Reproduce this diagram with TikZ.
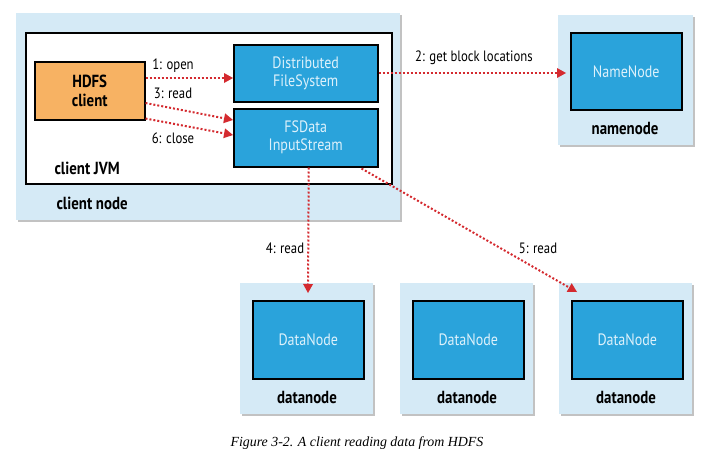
\documentclass[tikz,border=0pt]{standalone}
\usepackage{fontspec}
\setmainfont{PT Sans}[FakeStretch=0.85]
\newfontfamily\captionfont{Liberation Serif}
\usetikzlibrary{shadows,arrows.meta,calc}
\definecolor{hostblue}{HTML}{D5EAF6}
\definecolor{procblue}{HTML}{2AA3DB}
\definecolor{clientorange}{HTML}{F7B263}
\definecolor{callred}{HTML}{D42A2F}
\definecolor{proctext}{HTML}{DDF1FB}
\begin{document}
\begin{tikzpicture}[x=1pt,y=-1pt,
  host/.style={fill=hostblue,anchor=north west,inner sep=0pt,minimum width=#1,
    drop shadow={shadow xshift=2pt,shadow yshift=-2pt,fill=black!40,opacity=.6}},
  host/.default=133pt,
  proc/.style={draw=black,line width=1.5pt,fill=procblue,text=proctext,anchor=north west,
    align=center,font=\fontsize{16.5}{18}\selectfont,inner sep=0pt},
  hostname/.style={font=\bfseries\fontsize{17.5}{18}\selectfont},
  call/.style={callred,line width=2pt,dotted,-{Triangle[length=9pt,width=10pt,line width=0pt]}},
  calllabel/.style={font=\fontsize{15}{16}\selectfont}]
\useasboundingbox (0,0) rectangle (714,455);
\node[host=384pt,minimum height=207pt] (clientnode) at (16,13) {};
\node[draw=black,line width=2pt,fill=white,anchor=north west,minimum width=366pt,minimum height=151pt] (jvm) at (25,32) {};
\node[draw=black,line width=1.5pt,fill=clientorange,anchor=north west,minimum width=110pt,minimum height=58pt,
  align=center,font=\bfseries\fontsize{17.5}{19}\selectfont] (client) at (34,61) {HDFS\\client};
\node[proc,minimum width=144pt,minimum height=57pt] (dfs) at (233,44) {Distributed\\FileSystem};
\node[proc,minimum width=144pt,minimum height=58pt] (fsd) at (233,108) {FSData\\InputStream};
\node[hostname,anchor=west] (jvmname) at (51,168) {client JVM};
\node[hostname,anchor=west] (clientname) at (53,203) {client node};
\node[host=135pt,minimum height=130pt] (nnhost) at (558,15) {};
\node[proc,minimum width=111pt,minimum height=77pt] (nn) at (570,32) {NameNode};
\node[hostname] (nnname) at (625,128) {namenode};
\foreach \i/\x in {1/240,2/400,3/559}{
  \node[host,minimum height=131pt] (dnhost\i) at (\x,283) {};
  \node[proc,minimum width=111pt,minimum height=78pt] (dn\i) at (\x+12,300) {DataNode};
  \node[hostname] (dnname\i) at (\x+67,397) {datanode};
}
\draw[call] ($(client.north east)+(0,17)$) -- ($(dfs.north west)+(0,34)$);
\draw[call] ($(client.north east)+(0,42)$) -- ($(fsd.north west)+(0,12)$);
\draw[call] ($(client.south east)+(0,-2)$) -- ($(fsd.north west)+(0,27)$);
\draw[call] ($(dfs.north east)+(0,29)$) -- ($(nnhost.north west)+(8,58)$);
\draw[call] ($(fsd.south)+(3,0)$) -- ($(dnhost1.north west)+(68,10)$);
\draw[call] ($(fsd.south east)+(-17,1)$) -- ($(dnhost3.north west)+(18,9)$);
\node[calllabel] (l1) at (173,66) {1: open};
\node[calllabel] (l3) at (173,93) {3: read};
\node[calllabel] (l6) at (173,138) {6: close};
\node[calllabel] (l2) at (474,58) {2: get block locations};
\node[calllabel] (l4) at (285,248) {4: read};
\node[calllabel] (l5) at (538,248) {5: read};
\node[anchor=west,font=\captionfont\itshape\fontsize{13.9}{15}\selectfont] (caption) at (227,443)
  {Figure 3-2. A client reading data from HDFS};
\end{tikzpicture}
\end{document}
